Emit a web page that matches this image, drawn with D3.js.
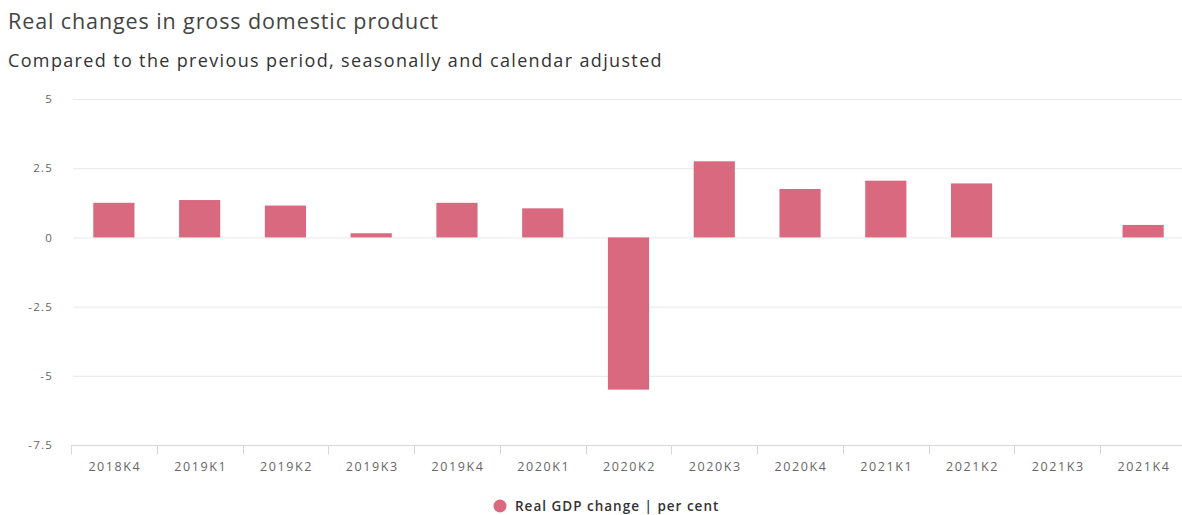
<!DOCTYPE html>
<html>
<head>
<meta charset="utf-8">
<script src="https://cdn.jsdelivr.net/npm/d3@7"></script>
<style>
  html, body { margin: 0; padding: 0; background: #fff; }
  svg { display: block; font-family: "Open Sans", "Noto Sans", sans-serif; }
</style>
</head>
<body>
<svg id="chart" width="1182" height="515"></svg>
<script>
// Quarterly real GDP change, per cent (2021K3 not published)
const quarters = ["2018K4", "2019K1", "2019K2", "2019K3", "2019K4", "2020K1", "2020K2",
                  "2020K3", "2020K4", "2021K1", "2021K2", "2021K3", "2021K4"];
const gdpChange = [1.25, 1.35, 1.15, 0.15, 1.25, 1.05, -5.5, 2.75, 1.75, 2.05, 1.95, null, 0.45];
const yTicks = [-7.5, -5, -2.5, 0, 2.5, 5];
const seriesName = "Real GDP change | per cent";

const svg = d3.select("#chart");
const barColor = "#d9697f";

const x = d3.scaleBand().domain(quarters).range([71, 1186]).paddingInner(0.52).paddingOuter(0.26);
const xb = d3.scaleBand().domain(quarters).range([71, 1186]);
const y = d3.scaleLinear().domain([-7.5, 5]).range([445, 99]);

// Titles
svg.append("text").attr("x", 8).attr("y", 29)
  .attr("font-size", 21.5).attr("letter-spacing", 0.9).attr("fill", "#444")
  .text("Real changes in gross domestic product");
svg.append("text").attr("x", 8).attr("y", 67)
  .attr("font-size", 18).attr("letter-spacing", 1.35).attr("fill", "#333")
  .text("Compared to the previous period, seasonally and calendar adjusted");

// Horizontal grid
svg.append("g").selectAll("line").data(yTicks.filter(d => d !== -7.5)).join("line")
  .attr("x1", 73).attr("x2", 1182)
  .attr("y1", d => y(d) + 0.5).attr("y2", d => y(d) + 0.5)
  .attr("stroke", "#e8e8e8").attr("stroke-width", 1);

// Y axis labels
const yAxis = d3.axisLeft(y).tickValues(yTicks).tickSize(0).tickPadding(0)
  .tickFormat(d => String(d));
svg.append("g").attr("transform", "translate(53,0)").call(yAxis)
  .call(g => g.select(".domain").remove())
  .call(g => g.selectAll("text").attr("font-size", 11.5).attr("fill", "#666")
        .attr("letter-spacing", 1.2).attr("font-family", "'Open Sans', sans-serif"));

// Bars
svg.append("g").selectAll("rect")
  .data(quarters.map((q, i) => ({ q, v: gdpChange[i] })).filter(d => d.v !== null))
  .join("rect")
  .attr("x", d => x(d.q))
  .attr("width", x.bandwidth())
  .attr("y", d => y(Math.max(0, d.v)))
  .attr("height", d => Math.abs(y(d.v) - y(0)))
  .attr("fill", barColor);

// X axis with ticks on category boundaries
const xg = svg.append("g").attr("transform", "translate(0,445.5)");
xg.append("line").attr("x1", 71).attr("x2", 1186).attr("stroke", "#d6d6d6").attr("stroke-width", 1);
const boundaries = quarters.map(q => xb(q)).concat([xb(quarters[quarters.length - 1]) + xb.bandwidth()]);
xg.selectAll("line.tick").data(boundaries).join("line").attr("class", "tick")
  .attr("x1", d => Math.round(d) + 0.5).attr("x2", d => Math.round(d) + 0.5)
  .attr("y1", 0).attr("y2", 9).attr("stroke", "#d6d6d6");
xg.selectAll("text").data(quarters).join("text")
  .attr("x", d => xb(d) + xb.bandwidth() / 2 + 1).attr("y", 25)
  .attr("text-anchor", "middle").attr("font-size", 12.5).attr("fill", "#666")
  .attr("letter-spacing", 1.6).text(d => d);

// Legend
const lg = svg.append("g").attr("transform", "translate(500,506)");
lg.append("circle").attr("cx", 0).attr("cy", 0).attr("r", 6.5).attr("fill", barColor);
lg.append("text").attr("x", 15).attr("y", 4.5).attr("font-size", 13.5)
  .attr("letter-spacing", 1).attr("font-weight", 600).attr("fill", "#333").text(seriesName);
</script>
</body>
</html>
